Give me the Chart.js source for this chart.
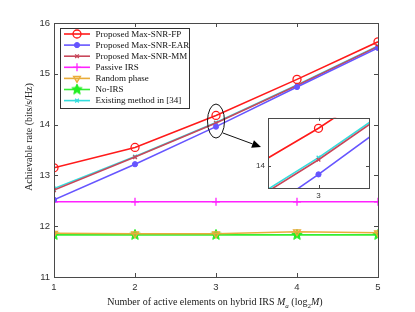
<!DOCTYPE html>
<html><head><meta charset="utf-8">
<script src="https://cdn.jsdelivr.net/npm/chart.js@4/dist/chart.umd.min.js"></script>
<style>
html,body{margin:0;padding:0;background:#fff;}
#wrap{position:relative;width:415px;height:312px;}
#main{position:absolute;left:0;top:0;}
#inset{position:absolute;left:248px;top:110px;}
</style></head>
<body><div id="wrap"><canvas id="main" width="415" height="312"></canvas><canvas id="inset" width="128" height="92"></canvas></div>
<script>
// ---- data ----
const xs = [1, 2, 3, 4, 5];
const labels = ["Proposed Max-SNR-FP","Proposed Max-SNR-EAR","Proposed Max-SNR-MM","Passive IRS","Random phase","No-IRS","Existing method in [34]"];
const fp = [13.15, 13.55, 14.18, 14.89, 15.63];
const ear = [12.52, 13.22, 13.96, 14.74, 15.51];
const mm = [12.71, 13.36, 14.03, 14.77, 15.54];
const passive = [12.48, 12.48, 12.48, 12.48, 12.48];
const randomPhase = [11.86, 11.85, 11.85, 11.89, 11.87];
const noIrs = [11.83, 11.83, 11.83, 11.83, 11.83];
const existing = [12.74, 13.37, 14.04, 14.78, 15.55];
const yTicks = [11, 12, 13, 14, 15, 16];
const xTicks = [1, 2, 3, 4, 5];

// star marker
function makeStar(color, size){
  const c = document.createElement('canvas'); c.width = size; c.height = size;
  const g = c.getContext('2d'); const cx = size/2, cy = size/2, R = size/2 - 0.5, r = R*0.45;
  g.beginPath();
  for (let i=0;i<10;i++){ const a = -Math.PI/2 + i*Math.PI/5; const rr = i%2===0?R:r; g.lineTo(cx+rr*Math.cos(a), cy+rr*Math.sin(a)); }
  g.closePath(); g.fillStyle = color; g.fill(); g.strokeStyle = color; g.lineWidth = 1; g.stroke();
  return c;
}
const star = makeStar('#22ee22', 12);

const series = [fp, ear, mm, passive, randomPhase, noIrs, existing];
const styles = [
  {color:'#ff1a1a', ps:'circle', r:4, bg:'rgba(0,0,0,0)', bw:1.3},
  {color:'#6655ff', ps:'circle', r:2.6, bg:'#6655ff', bw:1},
  {color:'#c8475a', ps:'crossRot', r:2.6, bg:'#c8475a', bw:1.3},
  {color:'#ff22ff', ps:'cross', r:4, bg:'#ff22ff', bw:1.3},
  {color:'#e9ac3a', ps:'triangle', r:4, bg:'rgba(237,177,60,0.35)', bw:1.3, rot:180},
  {color:'#33ee33', ps:star, r:6, bg:'#33ee33', bw:1},
  {color:'#33dddd', ps:'crossRot', r:2.6, bg:'#33dddd', bw:1.3}
];
function buildDatasets(){
  return series.map((s,i)=>({
    label: labels[i],
    data: xs.map((x,j)=>({x:x, y:s[j]})),
    borderColor: styles[i].color, backgroundColor: styles[i].bg,
    borderWidth: 1.6, pointStyle: styles[i].ps, pointRadius: styles[i].r,
    pointBorderWidth: styles[i].bw, pointRotation: styles[i].rot||0,
    pointBorderColor: styles[i].color, pointBackgroundColor: styles[i].bg,
    tension: 0
  }));
}

const AX = '#4a4a4a';
function boxTicks(chart, len){
  const {ctx, chartArea:a, scales} = chart;
  ctx.save(); ctx.strokeStyle = AX; ctx.lineWidth = 1;
  ctx.strokeRect(Math.round(a.left)+0.5, Math.round(a.top)+0.5, Math.round(a.right-a.left), Math.round(a.bottom-a.top));
  ctx.beginPath();
  scales.x.ticks.forEach(t=>{ const p = Math.round(scales.x.getPixelForValue(t.value))+0.5;
    ctx.moveTo(p,a.bottom); ctx.lineTo(p,a.bottom-len); ctx.moveTo(p,a.top); ctx.lineTo(p,a.top+len); });
  scales.y.ticks.forEach(t=>{ const p = Math.round(scales.y.getPixelForValue(t.value))+0.5;
    ctx.moveTo(a.left,p); ctx.lineTo(a.left+len,p); ctx.moveTo(a.right,p); ctx.lineTo(a.right-len,p); });
  ctx.stroke(); ctx.restore();
}

const mainDecor = {
  id:'mainDecor',
  afterDatasetsDraw(chart){
    const {ctx, scales} = chart;
    boxTicks(chart, 4);
    // ellipse + arrow
    const cx = scales.x.getPixelForValue(3), cy = scales.y.getPixelForValue(14.07);
    ctx.save(); ctx.strokeStyle = '#111'; ctx.lineWidth = 1;
    ctx.beginPath(); ctx.ellipse(cx, cy, 8.5, 17, 0, 0, Math.PI*2); ctx.stroke();
    const x0 = cx+7, y0 = cy+12, x1 = cx+45, y1 = cy+26;
    const ang = Math.atan2(y1-y0, x1-x0);
    const hx = x1 - 9*Math.cos(ang), hy = y1 - 9*Math.sin(ang);
    ctx.beginPath(); ctx.moveTo(x0,y0); ctx.lineTo(hx,hy); ctx.stroke();
    ctx.fillStyle = '#000'; ctx.beginPath(); ctx.moveTo(x1,y1);
    ctx.lineTo(hx + 4*Math.sin(ang), hy - 4*Math.cos(ang));
    ctx.lineTo(hx - 4*Math.sin(ang), hy + 4*Math.cos(ang)); ctx.closePath(); ctx.fill();
    ctx.restore();
  },
  afterDraw(chart){
    const {ctx} = chart;
    // legend
    const lx = 60.5, ly = 28.5, lw = 129, lh = 80;
    ctx.save();
    ctx.fillStyle = '#fff'; ctx.fillRect(lx, ly, lw, lh);
    ctx.strokeStyle = '#333'; ctx.lineWidth = 1; ctx.strokeRect(lx, ly, lw, lh);
    ctx.font = '9px "Liberation Serif"'; ctx.textBaseline = 'middle'; ctx.fillStyle = '#111';
    chart.data.datasets.forEach((d,i)=>{
      const y = 34 + i*11.1;
      ctx.strokeStyle = d.borderColor; ctx.lineWidth = 1.6;
      ctx.beginPath(); ctx.moveTo(64, y); ctx.lineTo(90, y); ctx.stroke();
      ctx.fillStyle = d.pointBackgroundColor; ctx.strokeStyle = d.pointBorderColor; ctx.lineWidth = d.pointBorderWidth;
      Chart.helpers.drawPoint(ctx, {pointStyle:d.pointStyle, radius:d.pointRadius, rotation:d.pointRotation, borderWidth:d.pointBorderWidth}, 77, y);
      ctx.fillStyle = '#111'; ctx.fillText(d.label, 95.5, y+0.5);
    });
    // y title
    ctx.save(); ctx.translate(29, 137); ctx.rotate(-Math.PI/2);
    ctx.font = '10px "Liberation Serif"'; ctx.textAlign = 'center'; ctx.textBaseline = 'middle'; ctx.fillStyle = '#222';
    ctx.fillText('Achievable rate (bits/s/Hz)', 0, 0); ctx.restore();
    // x title with math
    const parts = [
      {t:'Number of active elements on hybrid IRS ', f:'10px "Liberation Serif"', dy:0},
      {t:'M', f:'italic 10px "Liberation Serif"', dy:0},
      {t:'a', f:'italic 7px "Liberation Serif"', dy:2.5},
      {t:' (log', f:'10px "Liberation Serif"', dy:0},
      {t:'2', f:'7px "Liberation Serif"', dy:2.5},
      {t:'M', f:'italic 10px "Liberation Serif"', dy:0},
      {t:')', f:'10px "Liberation Serif"', dy:0}
    ];
    let total = 0; parts.forEach(p=>{ctx.font=p.f; p.w = ctx.measureText(p.t).width; total += p.w;});
    let x = 215 - total/2; ctx.textBaseline = 'alphabetic'; ctx.textAlign = 'left'; ctx.fillStyle = '#222';
    parts.forEach(p=>{ ctx.font = p.f; ctx.fillText(p.t, x, 305 + p.dy); x += p.w; });
    ctx.restore();
  }
};

const tickFont = {family:'"Liberation Sans", Arial, sans-serif', size:9.5};
new Chart(document.getElementById('main'), {
  type:'line',
  data:{datasets: buildDatasets()},
  options:{
    responsive:false, animation:false, devicePixelRatio:1,
    layout:{padding:{left:0, top:23, right:37, bottom:0}},
    plugins:{legend:{display:false}, tooltip:{enabled:false}},
    scales:{
      x:{type:'linear', min:1, max:5,
        afterBuildTicks:s=>{ s.ticks = xTicks.map(v=>({value:v})); },
        afterFit:s=>{ s.height = 35; },
        grid:{display:false, drawTicks:false}, border:{display:false},
        ticks:{padding:5, color:'#333', font:tickFont, maxRotation:0}},
      y:{type:'linear', min:11, max:16,
        afterBuildTicks:s=>{ s.ticks = yTicks.map(v=>({value:v})); },
        afterFit:s=>{ s.width = 54; },
        grid:{display:false, drawTicks:false}, border:{display:false},
        ticks:{padding:4, color:'#333', font:tickFont}}
    }
  },
  plugins:[mainDecor]
});

const insetDecor = {
  id:'insetDecor',
  beforeDraw(chart){ const {ctx, chartArea:a} = chart; ctx.save(); ctx.fillStyle='#fff'; ctx.fillRect(a.left,a.top,a.right-a.left,a.bottom-a.top); ctx.restore(); },
  afterDatasetsDraw(chart){ boxTicks(chart, 3); }
};
new Chart(document.getElementById('inset'), {
  type:'line',
  data:{datasets: buildDatasets()},
  options:{
    responsive:false, animation:false, devicePixelRatio:1,
    layout:{padding:{left:0, top:7, right:7, bottom:0}},
    plugins:{legend:{display:false}, tooltip:{enabled:false}},
    scales:{
      x:{type:'linear', min:2.775, max:3.225,
        afterBuildTicks:s=>{ s.ticks = [{value:3}]; },
        afterFit:s=>{ s.height = 14; },
        grid:{display:false, drawTicks:false}, border:{display:false},
        ticks:{padding:3, color:'#333', font:{family:'"Liberation Sans", Arial, sans-serif', size:8}}},
      y:{type:'linear', min:13.895, max:14.23,
        afterBuildTicks:s=>{ s.ticks = [{value:14}]; },
        afterFit:s=>{ s.width = 20; },
        grid:{display:false, drawTicks:false}, border:{display:false},
        ticks:{padding:3, color:'#333', font:{family:'"Liberation Sans", Arial, sans-serif', size:8}}}
    }
  },
  plugins:[insetDecor]
});
</script></body></html>
